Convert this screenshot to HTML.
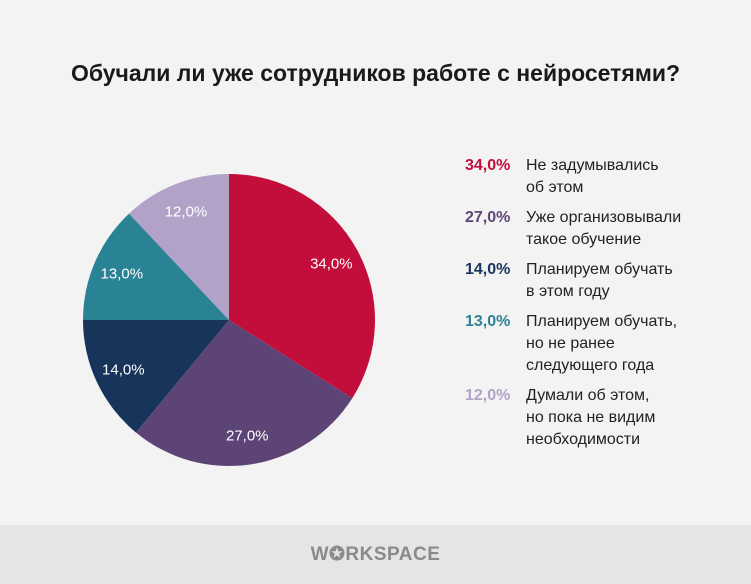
<!DOCTYPE html>
<html><head><meta charset="utf-8"><style>
body{margin:0;width:751px;height:584px;background:#f3f3f3;font-family:"Liberation Sans",sans-serif;position:relative;overflow:hidden}
#title{position:absolute;top:60px;left:0;width:751px;text-align:center;font-size:23px;font-weight:bold;color:#1a1a1a}
#footer{position:absolute;left:0;top:525px;width:751px;height:59px;background:#e5e5e5}
#logo{position:absolute;left:0;width:751px;top:18px;text-align:center;font-size:19px;font-weight:bold;color:#8a8a8a;letter-spacing:0.5px}
.leg{position:absolute;left:465px;font-size:16px;line-height:22px;color:#222}
.leg b{position:absolute;left:0;top:0}
.leg span{position:absolute;left:61px;top:0;white-space:nowrap}
</style></head><body>
<div id="title">Обучали ли уже сотрудников работе с нейросетями?</div>
<svg id="pie" width="751" height="520" style="position:absolute;left:0;top:0"></svg>
<div id="legend"></div>
<div id="footer"><div id="logo">W✪RKSPACE</div></div>
<script>
const categories=["Не задумывались<br>об этом","Уже организовывали<br>такое обучение","Планируем обучать<br>в этом году","Планируем обучать,<br>но не ранее<br>следующего года","Думали об этом,<br>но пока не видим<br>необходимости"];
const values=[34,27,14,13,12];
const labels=["34,0%","27,0%","14,0%","13,0%","12,0%"];
const colors=["#c30d3b","#5c4576","#17345b","#2a8394","#b3a2c8"];
const cx=229,cy=320,r=146;
const svg=document.getElementById('pie');const NS="http://www.w3.org/2000/svg";
const total=values.reduce((a,b)=>a+b,0);
let a0=0;
values.forEach((v,i)=>{
 const a1=a0+v/total*2*Math.PI;
 const x0=cx+r*Math.sin(a0),y0=cy-r*Math.cos(a0),x1=cx+r*Math.sin(a1),y1=cy-r*Math.cos(a1);
 const p=document.createElementNS(NS,'path');
 p.setAttribute('d',`M${cx},${cy}L${x0},${y0}A${r},${r} 0 ${a1-a0>Math.PI?1:0} 1 ${x1},${y1}Z`);
 p.setAttribute('fill',colors[i]);
 
 
 svg.appendChild(p);
 const am=(a0+a1)/2;
 const t=document.createElementNS(NS,'text');
 t.setAttribute('x',cx+r*0.8*Math.sin(am));t.setAttribute('y',cy-r*0.8*Math.cos(am)+5);
 t.setAttribute('text-anchor','middle');t.setAttribute('fill','#fff');t.setAttribute('font-size','15');
 t.textContent=labels[i];
 
 
 svg.appendChild(t);
 a0=a1;
});
const leg=document.getElementById('legend');
let y=155;
categories.forEach((c,i)=>{
 const d=document.createElement('div');d.className='leg';d.style.top=y+'px';
 d.innerHTML=`<b style="color:${colors[i]}">${labels[i]}</b><span>${c}</span>`;
 
 
 leg.appendChild(d);
 y+=(c.split('<br>').length)*22+8;
});
</script>
</body></html>
